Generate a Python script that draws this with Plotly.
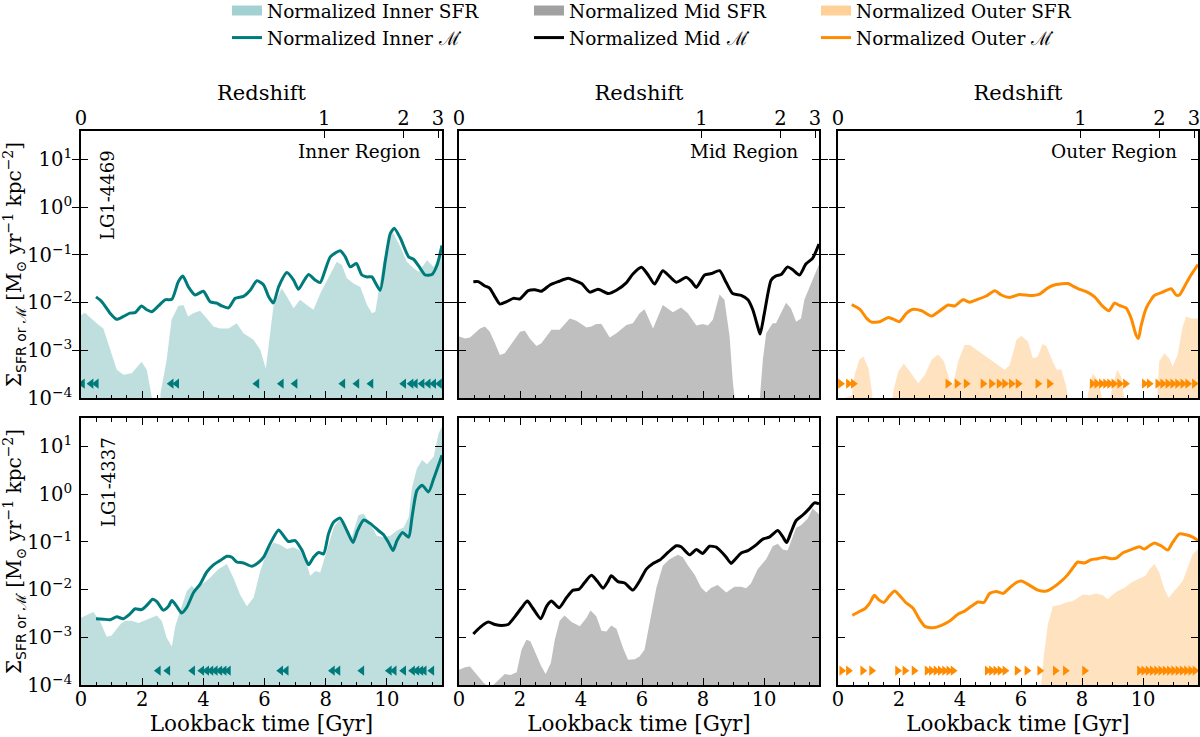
import numpy as np
import plotly.graph_objects as go

# ---------------------------------------------------------------- data ----
# Each series is a list of (lookback time [Gyr], log10 value) pairs.
# Values below the axis floor (SFR = 0) are given as -5.

INNER_TOP_SFR = [(0.00, -2.26), (0.13, -2.21), (0.51, -2.43), (0.73, -2.54), (1.17, -3.41), (1.39, -3.51),
                 (1.66, -3.48), (1.98, -3.24), (2.15, -3.41), (2.31, -3.97), (2.36, -5.0), (2.55, -5.0),
                 (2.60, -3.90), (2.80, -3.20), (2.96, -2.36), (3.18, -2.07), (3.35, -2.05), (3.50, -2.29),
                 (3.67, -2.22), (3.89, -2.17), (4.06, -2.29), (4.33, -2.50), (4.55, -2.54), (4.82, -2.54),
                 (5.09, -2.43), (5.31, -2.64), (5.64, -2.78), (5.86, -2.99), (6.04, -3.38), (6.13, -2.92),
                 (6.29, -2.08), (6.56, -1.70), (6.73, -1.87), (6.95, -2.12), (7.16, -1.94), (7.38, -2.05),
                 (7.60, -2.15), (7.82, -1.81), (8.15, -1.39), (8.36, -1.14), (8.53, -1.21), (8.69, -1.49),
                 (8.91, -1.60), (9.13, -1.67), (9.35, -2.05), (9.51, -2.22), (9.62, -2.19), (9.73, -1.77),
                 (9.89, -1.11), (10.16, -0.48), (10.44, -0.83), (10.65, -1.14), (10.87, -1.28), (11.04, -1.35),
                 (11.31, -1.11), (11.53, -1.25), (11.80, -0.90)]

INNER_TOP_MDOT = [(0.49, -1.88), (0.68, -1.98), (0.95, -2.22), (1.17, -2.35), (1.39, -2.29), (1.60, -2.22),
                  (1.77, -2.21), (1.98, -2.07), (2.15, -2.15), (2.31, -2.19), (2.53, -2.07), (2.75, -1.94),
                  (2.97, -1.93), (3.18, -1.56), (3.33, -1.44), (3.51, -1.67), (3.73, -1.84), (4.00, -1.76),
                  (4.22, -1.98), (4.44, -2.01), (4.60, -2.07), (4.82, -2.11), (5.04, -1.91), (5.31, -1.87),
                  (5.53, -1.74), (5.75, -1.54), (5.97, -1.63), (6.13, -1.87), (6.29, -2.01), (6.46, -1.67),
                  (6.73, -1.37), (6.95, -1.53), (7.11, -1.72), (7.27, -1.56), (7.44, -1.41), (7.66, -1.53),
                  (7.82, -1.58), (7.98, -1.32), (8.15, -1.04), (8.47, -0.91), (8.64, -1.04), (8.80, -1.25),
                  (9.00, -1.18), (9.18, -1.42), (9.35, -1.46), (9.51, -1.46), (9.62, -1.58), (9.78, -1.74),
                  (9.95, -1.11), (10.11, -0.55), (10.24, -0.44), (10.44, -0.65), (10.71, -1.04), (10.87, -1.09),
                  (11.09, -1.28), (11.25, -1.42), (11.47, -1.41), (11.64, -1.21), (11.80, -0.80)]

INNER_TOP_ARROWS = [0.05, 0.33, 0.50, 2.95, 3.13, 5.75, 6.55, 7.00, 8.56, 9.02, 9.48,
                    10.55, 10.79, 10.93, 11.15, 11.35, 11.53, 11.72]

MID_TOP_SFR = [(0.00, -2.71), (0.20, -2.75), (0.36, -2.73), (0.69, -2.54), (0.85, -2.50), (1.01, -2.61),
               (1.18, -2.85), (1.34, -3.10), (1.50, -3.06), (1.72, -2.85), (2.00, -2.61), (2.16, -2.59),
               (2.32, -2.75), (2.54, -2.91), (2.70, -2.85), (3.03, -2.57), (3.30, -2.57), (3.63, -2.33),
               (3.85, -2.38), (4.18, -2.52), (4.34, -2.50), (4.50, -2.45), (4.67, -2.45), (4.94, -2.73),
               (5.16, -2.64), (5.49, -2.47), (5.70, -2.43), (5.92, -2.22), (6.08, -2.14), (6.36, -2.54),
               (6.68, -2.05), (7.01, -2.20), (7.28, -2.10), (7.50, -2.22), (7.78, -2.48), (8.00, -2.45),
               (8.16, -2.48), (8.32, -2.36), (8.54, -1.83), (8.70, -1.94), (8.87, -2.71), (8.97, -3.62),
               (9.05, -4.10), (9.10, -5.0), (9.80, -5.0), (9.85, -4.10), (9.96, -3.20), (10.07, -2.64),
               (10.28, -2.43), (10.39, -2.43), (10.72, -2.00), (10.88, -2.12), (11.05, -2.40), (11.21, -2.33),
               (11.32, -1.94), (11.54, -1.60), (11.80, -1.20)]

MID_TOP_MDOT = [(0.47, -1.56), (0.63, -1.56), (0.85, -1.65), (1.01, -1.70), (1.18, -1.88), (1.34, -2.03),
                (1.56, -1.98), (1.78, -1.91), (2.00, -1.92), (2.27, -1.75), (2.49, -1.73), (2.70, -1.76),
                (2.98, -1.63), (3.25, -1.56), (3.58, -1.49), (3.80, -1.54), (4.02, -1.60), (4.29, -1.78),
                (4.56, -1.72), (4.89, -1.81), (5.16, -1.74), (5.49, -1.58), (5.70, -1.40), (5.98, -1.26),
                (6.20, -1.42), (6.41, -1.61), (6.68, -1.33), (6.90, -1.45), (7.12, -1.57), (7.45, -1.47),
                (7.61, -1.55), (7.78, -1.68), (8.05, -1.42), (8.27, -1.39), (8.54, -1.33), (8.76, -1.58),
                (8.97, -1.81), (9.25, -1.85), (9.47, -1.94), (9.63, -2.15), (9.79, -2.50), (9.87, -2.66),
                (10.01, -2.22), (10.23, -1.53), (10.39, -1.44), (10.56, -1.41), (10.77, -1.25), (10.94, -1.31),
                (11.16, -1.42), (11.37, -1.19), (11.59, -1.07), (11.80, -0.77)]

OUTER_TOP_SFR = [(0.00, -4.05), (0.45, -3.95), (0.55, -3.50), (0.70, -3.20), (0.83, -3.13), (1.00, -3.38),
                 (1.12, -3.90), (1.16, -5.0), (1.72, -5.0), (1.80, -3.90), (1.97, -3.45), (2.16, -3.28),
                 (2.36, -3.45), (2.63, -3.69), (2.85, -3.51), (3.07, -3.20), (3.28, -3.09), (3.47, -3.23),
                 (3.66, -3.62), (3.77, -3.72), (3.94, -3.23), (4.15, -2.89), (4.32, -2.89), (4.54, -2.99),
                 (4.86, -3.13), (5.19, -3.27), (5.46, -3.41), (5.63, -3.31), (5.85, -2.78), (6.01, -2.70),
                 (6.23, -2.82), (6.39, -3.17), (6.55, -3.13), (6.70, -2.87), (6.83, -2.91), (7.04, -3.24),
                 (7.17, -3.41), (7.32, -3.40), (7.48, -3.76), (7.54, -4.00), (7.58, -5.0), (8.15, -5.0),
                 (8.20, -3.90), (8.35, -3.48), (8.52, -3.62), (8.64, -3.95), (8.68, -5.0), (8.88, -5.0),
                 (8.95, -3.90), (9.15, -3.41), (9.28, -3.55), (9.37, -3.95), (9.41, -5.0), (10.42, -5.0),
                 (10.47, -3.90), (10.53, -3.23), (10.70, -3.06), (10.86, -3.17), (10.97, -3.34), (11.13, -3.10),
                 (11.30, -2.50), (11.41, -2.29), (11.57, -2.33), (11.80, -2.33)]

OUTER_TOP_MDOT = [(0.45, -2.04), (0.72, -2.14), (0.94, -2.33), (1.10, -2.41), (1.37, -2.40), (1.65, -2.31),
                  (1.86, -2.36), (2.01, -2.40), (2.25, -2.22), (2.46, -2.14), (2.74, -2.17), (3.07, -2.28),
                  (3.34, -2.17), (3.61, -2.05), (3.83, -2.07), (4.10, -1.94), (4.32, -1.99), (4.54, -1.94),
                  (4.86, -1.86), (5.14, -1.75), (5.35, -1.84), (5.63, -1.89), (5.95, -1.83), (6.28, -1.85),
                  (6.61, -1.82), (6.88, -1.69), (7.15, -1.62), (7.54, -1.60), (7.75, -1.67), (7.92, -1.72),
                  (8.14, -1.77), (8.41, -1.88), (8.68, -2.08), (8.88, -2.17), (9.06, -2.01), (9.23, -2.06),
                  (9.44, -2.11), (9.61, -2.33), (9.77, -2.68), (9.85, -2.75), (9.93, -2.50), (10.10, -2.12),
                  (10.26, -1.94), (10.37, -1.85), (10.64, -1.78), (10.92, -1.71), (11.08, -1.84), (11.19, -1.84),
                  (11.41, -1.60), (11.57, -1.42), (11.80, -1.20)]

OUTER_TOP_ARROWS = [0.08, 0.34, 0.50, 3.60, 3.90, 4.20, 4.75, 5.03, 5.28, 5.46, 5.68, 5.90, 6.55, 6.93,
                    8.33, 8.48, 8.63, 8.77, 8.90, 9.04, 9.23, 9.42, 10.04, 10.20, 10.48, 10.64, 10.81,
                    10.97, 11.13, 11.30, 11.46, 11.68]

INNER_BOT_SFR = [(0.00, -2.59), (0.24, -2.52), (0.40, -2.47), (0.62, -2.66), (0.84, -2.99), (1.00, -2.96),
                 (1.28, -2.73), (1.44, -2.65), (1.66, -2.65), (1.88, -2.70), (2.15, -2.63), (2.48, -2.54),
                 (2.64, -2.66), (2.80, -3.01), (2.97, -3.19), (3.08, -2.77), (3.24, -2.45), (3.46, -2.03),
                 (3.62, -1.92), (3.78, -2.03), (3.95, -1.89), (4.22, -1.75), (4.49, -1.57), (4.77, -1.46),
                 (4.98, -1.75), (5.20, -2.10), (5.42, -2.35), (5.64, -2.17), (5.86, -1.61), (6.07, -1.22),
                 (6.29, -1.01), (6.51, -1.06), (6.73, -1.15), (6.95, -1.11), (7.16, -1.18), (7.38, -1.46),
                 (7.49, -1.71), (7.66, -1.61), (7.82, -1.64), (8.04, -1.18), (8.26, -0.69), (8.47, -0.51),
                 (8.69, -0.76), (8.85, -0.90), (9.07, -0.44), (9.24, -0.41), (9.45, -0.62), (9.67, -0.87),
                 (9.89, -0.90), (10.11, -0.87), (10.33, -0.76), (10.55, -0.69), (10.71, -0.48), (10.82, 0.15),
                 (10.98, 0.54), (11.15, 0.72), (11.31, 0.63), (11.53, 0.79), (11.69, 1.28), (11.80, 1.42)]

INNER_BOT_MDOT = [(0.49, -2.61), (0.73, -2.62), (0.95, -2.63), (1.17, -2.57), (1.38, -2.61), (1.60, -2.51),
                  (1.77, -2.40), (1.98, -2.42), (2.15, -2.33), (2.34, -2.20), (2.48, -2.25), (2.69, -2.43),
                  (2.86, -2.35), (2.97, -2.23), (3.13, -2.35), (3.29, -2.49), (3.46, -2.37), (3.68, -2.06),
                  (3.89, -1.89), (4.11, -1.63), (4.33, -1.48), (4.55, -1.39), (4.77, -1.30), (4.93, -1.32),
                  (5.09, -1.42), (5.31, -1.44), (5.58, -1.51), (5.80, -1.43), (5.97, -1.32), (6.18, -1.04),
                  (6.46, -0.75), (6.62, -0.87), (6.78, -0.99), (7.00, -0.97), (7.22, -1.17), (7.44, -1.48),
                  (7.60, -1.32), (7.77, -1.22), (7.93, -1.25), (8.09, -0.83), (8.26, -0.58), (8.47, -0.50),
                  (8.69, -0.76), (8.89, -1.01), (9.04, -0.76), (9.24, -0.54), (9.45, -0.61), (9.72, -0.76),
                  (9.89, -0.85), (10.05, -1.01), (10.20, -1.18), (10.33, -0.97), (10.51, -0.80), (10.71, -0.90),
                  (10.82, -0.48), (10.98, 0.08), (11.15, 0.19), (11.36, 0.05), (11.53, 0.33), (11.80, 0.82)]

INNER_BOT_ARROWS = [2.53, 2.84, 3.65, 3.95, 4.11, 4.25, 4.39, 4.54, 4.68, 4.82, 6.53, 6.71, 8.22, 8.40,
                    9.18, 10.08, 10.24, 10.55, 10.84, 10.98, 11.11, 11.22, 11.47]

MID_BOT_SFR = [(0.00, -3.68), (0.20, -3.63), (0.36, -3.61), (0.58, -3.79), (0.80, -3.95), (0.96, -4.04),
               (1.12, -4.00), (1.34, -3.87), (1.50, -3.77), (1.69, -3.79), (1.89, -3.73), (2.05, -3.26),
               (2.21, -3.05), (2.34, -3.08), (2.54, -3.37), (2.70, -3.61), (2.84, -3.77), (3.01, -3.54),
               (3.14, -3.05), (3.30, -2.65), (3.46, -2.54), (3.69, -2.68), (3.96, -2.77), (4.18, -2.59),
               (4.31, -2.44), (4.50, -2.56), (4.67, -2.86), (4.83, -2.88), (4.99, -2.75), (5.16, -2.82),
               (5.38, -3.23), (5.54, -3.47), (5.76, -3.46), (5.92, -3.40), (6.08, -3.26), (6.25, -2.66),
               (6.47, -1.96), (6.68, -1.50), (6.90, -1.36), (7.18, -1.27), (7.34, -1.32), (7.50, -1.49),
               (7.72, -1.68), (7.94, -1.96), (8.10, -2.06), (8.27, -1.96), (8.48, -1.90), (8.76, -2.06),
               (9.03, -1.94), (9.25, -1.94), (9.41, -1.97), (9.57, -1.87), (9.79, -1.57), (10.07, -1.36),
               (10.28, -1.09), (10.45, -1.04), (10.61, -1.16), (10.77, -1.18), (11.05, -0.70), (11.21, -0.65),
               (11.43, -0.51), (11.59, -0.30), (11.80, -0.42)]

MID_BOT_MDOT = [(0.47, -2.93), (0.69, -2.79), (0.96, -2.68), (1.18, -2.73), (1.40, -2.75), (1.61, -2.73),
                (1.84, -2.56), (2.05, -2.38), (2.24, -2.24), (2.41, -2.38), (2.68, -2.61), (2.87, -2.35),
                (3.03, -2.24), (3.28, -2.38), (3.52, -2.17), (3.74, -2.01), (3.94, -1.99), (4.12, -1.85),
                (4.34, -1.70), (4.53, -1.82), (4.72, -1.97), (4.89, -1.82), (4.99, -1.71), (5.21, -1.83),
                (5.43, -1.86), (5.70, -2.01), (5.92, -1.82), (6.14, -1.57), (6.36, -1.45), (6.58, -1.38),
                (6.85, -1.22), (7.12, -1.08), (7.28, -1.10), (7.56, -1.27), (7.78, -1.16), (7.99, -1.24),
                (8.21, -1.09), (8.43, -1.11), (8.59, -1.20), (8.76, -1.32), (8.92, -1.45), (9.03, -1.38),
                (9.25, -1.23), (9.47, -1.18), (9.74, -1.06), (9.96, -0.94), (10.17, -0.90), (10.45, -0.76),
                (10.61, -0.89), (10.74, -1.01), (10.88, -0.80), (11.05, -0.55), (11.26, -0.44), (11.48, -0.30),
                (11.65, -0.18), (11.80, -0.20)]

OUTER_BOT_SFR = [(0.00, -5.0), (6.60, -5.0), (6.66, -4.00), (6.75, -3.37), (6.88, -2.73), (7.04, -2.35),
                 (7.26, -2.32), (7.48, -2.27), (7.70, -2.24), (7.86, -2.17), (8.03, -2.10), (8.24, -2.12),
                 (8.46, -2.08), (8.68, -2.12), (8.84, -2.20), (9.01, -2.10), (9.17, -2.03), (9.39, -1.96),
                 (9.61, -1.85), (9.83, -1.78), (10.08, -1.71), (10.21, -1.57), (10.37, -1.46), (10.53, -1.64),
                 (10.70, -1.99), (10.84, -2.17), (11.03, -2.03), (11.30, -1.82), (11.46, -1.54), (11.63, -1.25),
                 (11.80, -1.15)]

OUTER_BOT_MDOT = [(0.47, -2.54), (0.67, -2.47), (0.88, -2.40), (1.05, -2.27), (1.19, -2.12), (1.35, -2.22),
                  (1.50, -2.27), (1.70, -2.12), (1.86, -2.03), (2.03, -2.13), (2.22, -2.27), (2.46, -2.39),
                  (2.66, -2.61), (2.85, -2.77), (3.12, -2.80), (3.39, -2.75), (3.66, -2.66), (3.94, -2.51),
                  (4.15, -2.45), (4.37, -2.35), (4.59, -2.26), (4.78, -2.27), (4.97, -2.08), (5.19, -2.04),
                  (5.41, -2.08), (5.63, -1.96), (5.85, -1.85), (6.01, -1.82), (6.28, -1.91), (6.55, -2.01),
                  (6.83, -2.03), (7.04, -1.96), (7.32, -1.82), (7.54, -1.68), (7.70, -1.54), (7.86, -1.42),
                  (8.08, -1.44), (8.30, -1.37), (8.52, -1.35), (8.74, -1.32), (8.95, -1.35), (9.12, -1.34),
                  (9.33, -1.23), (9.61, -1.16), (9.88, -1.10), (10.04, -1.15), (10.21, -1.08), (10.37, -1.02),
                  (10.59, -1.08), (10.81, -1.17), (10.97, -1.01), (11.19, -0.83), (11.41, -0.85), (11.63, -0.90),
                  (11.80, -0.97)]

OUTER_BOT_ARROWS = [0.12, 0.34, 0.81, 1.10, 1.95, 2.19, 2.49, 2.92, 3.06, 3.21, 3.35, 3.49, 3.63, 3.77,
                    4.89, 5.03, 5.17, 5.31, 5.47, 5.87, 6.19, 6.61, 7.12, 7.45, 8.08,
                    9.88, 10.02, 10.16, 10.30, 10.44, 10.58, 10.72, 10.86, 11.00, 11.14, 11.28, 11.42,
                    11.56, 11.70]

ARROW_LEVEL = 2e-4                       # height at which the event markers sit

REGIONS = ["Inner", "Mid", "Outer"]
GALAXIES = ["LG1-4469", "LG1-4337"]
LOOKBACK_RANGE = [0, 11.8]
LOG_Y_RANGE = [-4, 1.6]
Y_TICK_VALUES = [1e-4, 1e-3, 1e-2, 1e-1, 1e0, 1e1]
Y_TICK_TEXT = ["10<sup>−4</sup>", "10<sup>−3</sup>", "10<sup>−2</sup>", "10<sup>−1</sup>",
               "10<sup>0</sup>", "10<sup>1</sup>"]
REDSHIFT_LABELS = ["0", "1", "2", "3"]
REDSHIFT_LOOKBACK = [0.0, 7.95, 10.54, 11.67]

PANELS = {
    (0, 0): (INNER_TOP_SFR, INNER_TOP_MDOT, INNER_TOP_ARROWS),
    (0, 1): (MID_TOP_SFR, MID_TOP_MDOT, []),
    (0, 2): (OUTER_TOP_SFR, OUTER_TOP_MDOT, OUTER_TOP_ARROWS),
    (1, 0): (INNER_BOT_SFR, INNER_BOT_MDOT, INNER_BOT_ARROWS),
    (1, 1): (MID_BOT_SFR, MID_BOT_MDOT, []),
    (1, 2): (OUTER_BOT_SFR, OUTER_BOT_MDOT, OUTER_BOT_ARROWS),
}

# --------------------------------------------------------------- style ----
FONT = "DejaVu Serif"
STYLE = {
    "Inner": dict(line="#007b7b", fill="rgba(0,128,128,0.25)", legfill="rgba(0,128,128,0.36)",
                  symbol="triangle-left", legend="legend"),
    "Mid": dict(line="#000000", fill="rgba(128,128,128,0.5)", legfill="rgba(128,128,128,0.74)",
                symbol=None, legend="legend2"),
    "Outer": dict(line="#ff8c00", fill="rgba(255,140,0,0.25)", legfill="rgba(255,140,0,0.40)",
                  symbol="triangle-right", legend="legend3"),
}
W, H = 1200, 737
COL_PX = [(81, 442), (459, 819), (838, 1198)]
ROW_PX = [(131, 398), (418, 685)]
MDOT = "ℳ̇"


def xdom(c):
    return [COL_PX[c][0] / W, COL_PX[c][1] / W]


def ydom(r):
    return [1 - ROW_PX[r][1] / H, 1 - ROW_PX[r][0] / H]


def ax(letter, k):
    return letter if k == 1 else f"{letter}{k}"


def unzip(pairs):
    t = np.array([p[0] for p in pairs])
    v = np.power(10.0, np.array([p[1] for p in pairs]))
    return t, v


fig = go.Figure()

# fills first
for (r, c), (sfr, mdot, arrows) in PANELS.items():
    k = r * 3 + c + 1
    st = STYLE[REGIONS[c]]
    t, v = unzip(sfr)
    fig.add_trace(go.Scatter(x=t, y=v, mode="lines", line=dict(width=0, color=st["fill"]),
                             fill="tozeroy", fillcolor=st["fill"], xaxis=ax("x", k), yaxis=ax("y", k),
                             showlegend=False, hoverinfo="skip"))

# legend entries for SFR patches
for reg in REGIONS:
    st = STYLE[reg]
    fig.add_trace(go.Scatter(x=[None], y=[None], mode="lines", line=dict(color=st["legfill"], width=10),
                             name=f"Normalized {reg} SFR", legend=st["legend"], showlegend=True))

# lines and markers
for (r, c), (sfr, mdot, arrows) in PANELS.items():
    k = r * 3 + c + 1
    reg = REGIONS[c]
    st = STYLE[reg]
    t, v = unzip(mdot)
    fig.add_trace(go.Scatter(x=t, y=v, mode="lines",
                             line=dict(color=st["line"], width=3, shape="spline", smoothing=0.6),
                             xaxis=ax("x", k), yaxis=ax("y", k), name=f"Normalized {reg} {MDOT}",
                             legend=st["legend"], showlegend=(r == 0)))
    if arrows:
        fig.add_trace(go.Scatter(x=arrows, y=[ARROW_LEVEL] * len(arrows), mode="markers",
                                 marker=dict(symbol=st["symbol"], size=9, color=st["line"]),
                                 xaxis=ax("x", k), yaxis=ax("y", k), showlegend=False, hoverinfo="skip"))

# placeholder traces so the redshift axes exist
for c in range(3):
    fig.add_trace(go.Scatter(x=[None], y=[None], xaxis=f"x{7 + c}", yaxis=ax("y", c + 1),
                             showlegend=False, hoverinfo="skip"))

tickfont = dict(family=FONT, size=19.5, color="black")
layout = dict(width=W, height=H, margin=dict(l=0, r=0, t=0, b=0, autoexpand=False),
              paper_bgcolor="white", plot_bgcolor="white", showlegend=True)

ytitle = ("Σ<sub><span style='font-family:DejaVu Sans'>SFR or </span>" + MDOT + "</sub>"
          " [M<sub>⊙</sub> yr<sup>−1</sup> kpc<sup>−2</sup>]")

for r in range(2):
    for c in range(3):
        k = r * 3 + c + 1
        xa = dict(domain=xdom(c), range=LOOKBACK_RANGE, anchor=ax("y", k), showline=True, linewidth=2,
                  linecolor="black", mirror=("allticks" if r == 1 else True), ticks="inside",
                  ticklen=7, tickwidth=1.4, tickcolor="black", dtick=2, tick0=0,
                  minor=dict(dtick=0.5, ticks="inside", ticklen=3.5, tickwidth=1.1, tickcolor="black",
                             showgrid=False),
                  showgrid=False, zeroline=False, showticklabels=(r == 1), tickfont=tickfont,
                  ticklabelstandoff=-4, ticklabeloverflow="allow")
        if r == 1:
            xa["title"] = dict(text="Lookback time [Gyr]", font=dict(family=FONT, size=21.5, color="black"),
                               standoff=5)
        ya = dict(domain=ydom(r), type="log", range=LOG_Y_RANGE, anchor=ax("x", k), showline=True,
                  linewidth=2, linecolor="black", mirror="allticks", ticks="inside", ticklen=7,
                  tickwidth=1.4, tickcolor="black", tickmode="array", tickvals=Y_TICK_VALUES,
                  ticktext=Y_TICK_TEXT, showgrid=False, zeroline=False, showticklabels=(c == 0),
                  tickfont=tickfont, ticklabelstandoff=3, ticklabeloverflow="allow")
        if c == 0:
            ya["title"] = dict(text=ytitle, font=dict(family=FONT, size=20, color="black"), standoff=6)
        layout[f"xaxis{k}"] = xa
        layout[f"yaxis{k}"] = ya

for c in range(3):
    layout[f"xaxis{7 + c}"] = dict(overlaying=ax("x", c + 1), anchor=ax("y", c + 1),
                                   side="top", range=LOOKBACK_RANGE, tickmode="array",
                                   tickvals=REDSHIFT_LOOKBACK, ticktext=REDSHIFT_LABELS, ticks="inside",
                                   ticklen=7, tickwidth=1.4, tickcolor="black", showline=False,
                                   showgrid=False, zeroline=False, tickfont=tickfont, ticklabelstandoff=1,
                                   ticklabeloverflow="allow",
                                   title=dict(text="Redshift", font=dict(family=FONT, size=21, color="black"),
                                              standoff=0))

legfont = dict(family=FONT, size=18.5, color="black")
for name, xpix in (("legend", 227), ("legend2", 529), ("legend3", 816)):
    layout[name] = dict(x=xpix / W, y=1 + 8 / H, xanchor="left", yanchor="top", orientation="v",
                        font=legfont, bgcolor="rgba(0,0,0,0)", borderwidth=0, tracegroupgap=0)

annotations = []
for c, reg in enumerate(REGIONS):
    k = c + 1
    annotations.append(dict(text=f"{reg} Region", xref=ax("x", k) + " domain", yref=ax("y", k) + " domain",
                            x=1 - 19 / 361, y=1 - 21 / 267, xanchor="right", yanchor="middle",
                            showarrow=False, font=dict(family=FONT, size=18.5, color="black")))
for r, gal in enumerate(GALAXIES):
    k = r * 3 + 1
    annotations.append(dict(text=gal, xref=ax("x", k) + " domain", yref=ax("y", k) + " domain", x=27 / 361,
                            y=1 - 17 / 267, xanchor="center", yanchor="top", textangle=-90,
                            showarrow=False, font=dict(family=FONT, size=18, color="black")))
layout["annotations"] = annotations

fig.update_layout(**layout)
fig.write_html("out.html")
